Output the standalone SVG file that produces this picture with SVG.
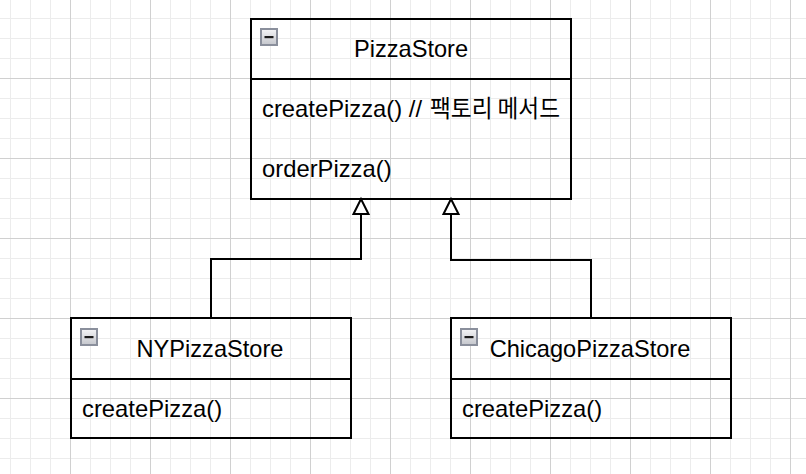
<svg xmlns="http://www.w3.org/2000/svg" width="806" height="474" viewBox="0 0 806 474">
  <defs>
    <pattern id="minor" width="20" height="20" patternUnits="userSpaceOnUse" x="10" y="18">
      <path d="M0 0H20M0 0V20" fill="none" stroke="#ececec" stroke-width="2"/>
    </pattern>
    <pattern id="major" width="80" height="80" patternUnits="userSpaceOnUse" x="70" y="78">
      <path d="M0 0.5H80M0.5 0V80" fill="none" stroke="#d0d0d0" stroke-width="1"/>
    </pattern>
    <linearGradient id="iconFill" x1="0" y1="0" x2="0" y2="1">
      <stop offset="0" stop-color="#f4f4f6"/>
      <stop offset="1" stop-color="#c4c6cc"/>
    </linearGradient>
    <marker id="inherit" markerUnits="userSpaceOnUse" viewBox="-1 -9 18 18" markerWidth="18" markerHeight="18" refX="0" refY="0" orient="auto" overflow="visible">
      <path d="M0 -7.5 L15 0 L0 7.5 Z" fill="#ffffff" stroke="#000000" stroke-width="2" stroke-linejoin="miter"/>
    </marker>
    <g id="icon">
      <rect x="0.5" y="0.5" width="16" height="16" fill="url(#iconFill)" stroke="#8a8f9c" stroke-width="2"/>
      <rect x="4" y="7.5" width="9" height="2.2" fill="#1a1a1a"/>
    </g>
  </defs>
  <style>
    .box { fill: none; stroke: #000000; stroke-width: 2; }
    .div { stroke: #000000; stroke-width: 2; }
    .title { font-family: "Liberation Sans", Arial, "Noto Sans CJK KR", sans-serif; font-size: 23.6px; fill: #000000; text-anchor: middle; }
    .member { font-family: "Liberation Sans", Arial, "Noto Sans CJK KR", sans-serif; font-size: 23.8px; fill: #000000; }
    .ko { font-family: "Noto Sans CJK KR", sans-serif; }
    .edge { fill: none; stroke: #000000; stroke-width: 2; marker-end: url(#inherit); }
  </style>
  <rect x="0" y="0" width="806" height="474" fill="#ffffff"/>
  <rect x="0" y="0" width="806" height="474" fill="url(#minor)"/>
  <rect x="0" y="0" width="806" height="474" fill="url(#major)"/>

  <g id="connectors">
    <path class="edge" d="M211 318 V259 H361 V214"/>
    <path class="edge" d="M591 318 V260 H451 V214"/>
  </g>

  <g id="PizzaStore">
    <rect class="box" x="251" y="19" width="320" height="180"/>
    <line class="div" x1="251" y1="79" x2="571" y2="79"/>
    <use href="#icon" x="260.5" y="28.5"/>
    <text class="title" x="411" y="57">PizzaStore</text>
    <text class="member" x="262" y="117">createPizza() // <tspan class="ko" x="430" textLength="130" lengthAdjust="spacingAndGlyphs">팩토리 메서드</tspan></text>
    <text class="member" x="262" y="177">orderPizza()</text>
  </g>

  <g id="NYPizzaStore">
    <rect class="box" x="71" y="318" width="280" height="120"/>
    <line class="div" x1="71" y1="379" x2="351" y2="379"/>
    <use href="#icon" x="80.5" y="328.5"/>
    <text class="title" x="210" y="357">NYPizzaStore</text>
    <text class="member" x="82" y="417">createPizza()</text>
  </g>

  <g id="ChicagoPizzaStore">
    <rect class="box" x="451" y="318" width="280" height="120"/>
    <line class="div" x1="451" y1="379" x2="731" y2="379"/>
    <use href="#icon" x="460.5" y="328.5"/>
    <text class="title" x="590" y="357">ChicagoPizzaStore</text>
    <text class="member" x="462" y="417">createPizza()</text>
  </g>
</svg>
